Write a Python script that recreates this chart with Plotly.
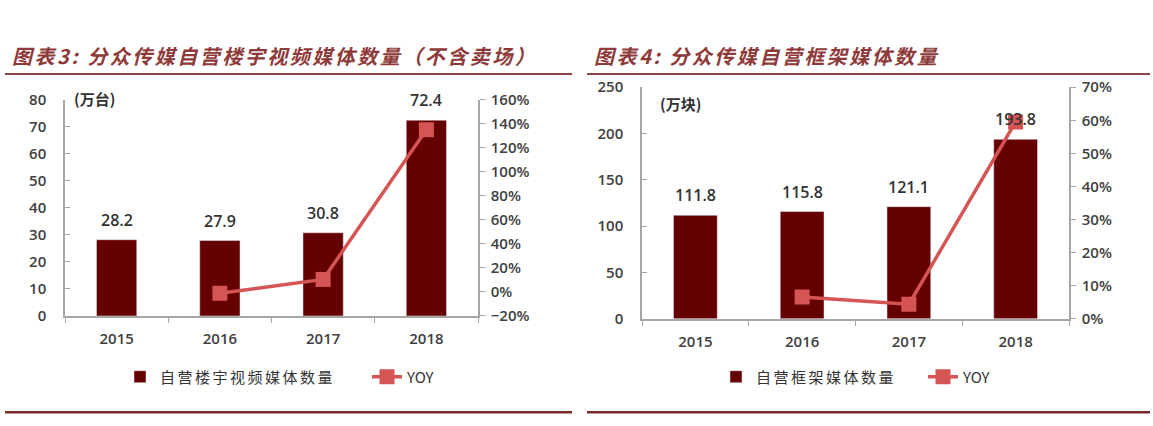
import plotly.graph_objects as go

# ---- data ----
years = ["2015", "2016", "2017", "2018"]
building_counts = [28.2, 27.9, 30.8, 72.4]          # 万台
building_yoy = [None, -1.1, 10.4, 135.0]            # %
frame_counts = [111.8, 115.8, 121.1, 193.8]         # 万块
frame_yoy = [None, 6.6, 4.4, 59.5]                  # %

title_left = "图表3: 分众传媒自营楼宇视频媒体数量（不含卖场）"
title_right = "图表4: 分众传媒自营框架媒体数量"
name_bar_left = "自营楼宇视频媒体数量"
name_bar_right = "自营框架媒体数量"
name_line = "YOY"
unit_left = "(万台)"
unit_right = "(万块)"

W, H = 1153, 426
BAR = "#650000"
LINE = "#D55555"
TXT = "#404040"
AX = "#a6a6a6"
TITLE_C = "#8E3A3A"
NUM_FONT = "Open Sans"
CJK = "Noto Sans CJK SC"


def fx(p):
    return p / W


def fy(p):
    return 1 - p / H


def spaced(s, px):
    return f'<span style="letter-spacing:{px}px">{s}</span>'


fig = go.Figure()

fig.add_trace(go.Bar(x=years, y=building_counts, name=spaced(name_bar_left, 2.5), marker_color=BAR,
                     width=0.39, xaxis="x", yaxis="y", legend="legend"))
fig.add_trace(go.Scatter(x=years, y=building_yoy, name=name_line, mode="lines+markers",
                         line=dict(color=LINE, width=3.5),
                         marker=dict(symbol="square", size=15, color=LINE),
                         xaxis="x", yaxis="y2", legend="legend"))
fig.add_trace(go.Bar(x=years, y=frame_counts, name=spaced(name_bar_right, 2.5), marker_color=BAR,
                     width=0.41, xaxis="x2", yaxis="y3", legend="legend2"))
fig.add_trace(go.Scatter(x=years, y=frame_yoy, name=name_line, mode="lines+markers",
                         line=dict(color=LINE, width=3.5),
                         marker=dict(symbol="square", size=15, color=LINE),
                         xaxis="x2", yaxis="y4", legend="legend2"))

tickfont = dict(family=NUM_FONT, size=15, color=TXT, weight=600)
common_x = dict(type="category", categoryorder="array", categoryarray=years,
                range=[-0.5, len(years) - 0.5], autorange=False,
                showline=True, linecolor=AX, linewidth=1.5,
                ticks="outside", tickson="boundaries", ticklen=5, tickcolor=AX, tickangle=0,
                ticklabelstandoff=8,
                tickfont=tickfont, showgrid=False, zeroline=False)
common_yl = dict(showline=True, linecolor=AX, linewidth=1.5, ticks="inside",
                 ticklen=5, tickcolor=AX, tickfont=tickfont, showgrid=False,
                 zeroline=False, ticklabelstandoff=14)
common_yr = dict(showline=True, linecolor=AX, linewidth=1.5, ticks="outside",
                 ticklen=5, tickcolor=AX, tickfont=tickfont, showgrid=False,
                 zeroline=False, ticklabelstandoff=3)

legend_font = dict(family=CJK, size=15, color="#333333")
fig.update_layout(
    width=W, height=H,
    margin=dict(l=0, r=0, t=0, b=0),
    paper_bgcolor="white", plot_bgcolor="white",
    xaxis=dict(domain=[fx(65), fx(478)], anchor="y", **common_x),
    yaxis=dict(domain=[fy(320), fy(93)], range=[0, 80], dtick=10, anchor="x", **common_yl),
    yaxis2=dict(overlaying="y", side="right", anchor="x", range=[-20, 160], dtick=20,
                ticksuffix="%", **common_yr),
    xaxis2=dict(domain=[fx(642), fx(1069)], anchor="y3", **common_x),
    yaxis3=dict(domain=[fy(323), fy(80)], range=[0, 250], dtick=50, anchor="x2", **common_yl),
    yaxis4=dict(overlaying="y3", side="right", anchor="x2", range=[0, 70], dtick=10,
                ticksuffix="%", **common_yr),
    legend=dict(orientation="h", x=fx(120), y=fy(384), xanchor="left", yanchor="middle",
                font=legend_font, bgcolor="rgba(0,0,0,0)", traceorder="normal",
                entrywidth=202),
    legend2=dict(orientation="h", x=fx(716), y=fy(384), xanchor="left", yanchor="middle",
                 font=legend_font, bgcolor="rgba(0,0,0,0)", traceorder="normal",
                 entrywidth=162),
    showlegend=True,
)

annotations = []
label_font = dict(family=NUM_FONT, size=16, color="#333333", weight=600)
for i, v in enumerate(building_counts):
    annotations.append(dict(x=i, y=v, xref="x", yref="y", text=f"{v:.1f}", showarrow=False,
                            yshift=20, font=label_font))
for i, v in enumerate(frame_counts):
    annotations.append(dict(x=i, y=v, xref="x2", yref="y3", text=f"{v:.1f}", showarrow=False,
                            yshift=20, font=label_font))

unit_font = dict(family=CJK, size=15, color="#333333", weight="bold")
annotations.append(dict(x=fx(72), y=fy(92), xref="paper", yref="paper", text=unit_left,
                        showarrow=False, xanchor="left", yanchor="middle", font=unit_font))
annotations.append(dict(x=fx(658), y=fy(97), xref="paper", yref="paper", text=unit_right,
                        showarrow=False, xanchor="left", yanchor="middle", font=unit_font))

title_font = dict(family=CJK, size=20, color=TITLE_C, weight="bold", style="italic")
annotations.append(dict(x=fx(10), y=fy(47), xref="paper", yref="paper",
                        text=spaced(title_left, 2.5),
                        showarrow=False, xanchor="left", yanchor="middle", font=title_font))
annotations.append(dict(x=fx(592), y=fy(47), xref="paper", yref="paper",
                        text=spaced(title_right, 2.5),
                        showarrow=False, xanchor="left", yanchor="middle", font=title_font))
fig.update_layout(annotations=annotations)

shapes = []
for x0, x1 in [(5, 572), (587, 1150)]:
    shapes.append(dict(type="line", xref="paper", yref="paper", x0=fx(x0), x1=fx(x1),
                       y0=fy(66), y1=fy(66), line=dict(color="#8B4545", width=2)))
    shapes.append(dict(type="line", xref="paper", yref="paper", x0=fx(x0), x1=fx(x1),
                       y0=fy(421), y1=fy(421), line=dict(color="#7A2A2A", width=2.5)))
fig.update_layout(shapes=shapes)

fig.write_html("out.html")
